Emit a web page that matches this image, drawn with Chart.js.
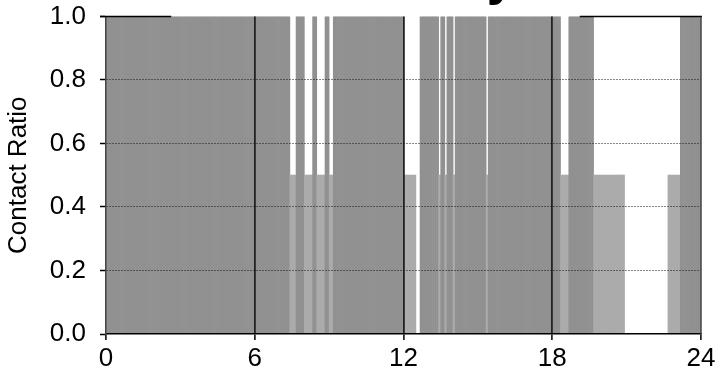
<!DOCTYPE html>
<html>
<head>
<meta charset="utf-8">
<script src="https://cdn.jsdelivr.net/npm/chart.js@4.4.1/dist/chart.umd.min.js"></script>
<style>
  html, body { margin: 0; padding: 0; background: #fff; overflow: hidden; }
  #wrap { position: relative; width: 722px; height: 368px; overflow: hidden; }
  #box { position: absolute; left: 0; top: -52px; width: 722px; height: 420px; }
</style>
</head>
<body>
<div id="wrap"><div id="box"><canvas id="contactChart"></canvas></div></div>
<script>
// minute of the day where each level starts, and the level from there on
var segStart = [0, 445, 460, 480, 500, 510, 530, 540, 550, 720, 750, 760, 805, 810, 820, 825, 840, 845, 920, 925, 1100, 1120, 1180, 1255, 1360, 1390];
var segLevel = [1, 0.5, 1, 0.5, 1, 0.5, 1, 0.5, 1, 0.5, 0, 1, 0.5, 1, 0.5, 1, 0.5, 1, 0.5, 1, 0.5, 1, 0.5, 0, 0.5, 1];
var binMinutes = 5;
var hourTicks = [0, 6, 12, 18, 24];
var ratioTicks = [0, 0.2, 0.4, 0.6, 0.8, 1.0];
var chartTitle = 'Weekday';
var yTitle = 'Contact Ratio';
// hours where the top frame is hidden behind the title
var gapFrom = 2.63, gapTo = 19.11;

var fontFamily = "'Liberation Sans', Arial, sans-serif";

// one bar per 5 minute bin
var bins = [];
var colors = [];
for (var m = 0; m < 1440; m += binMinutes) {
    var lvl = 0;
    for (var s = 0; s < segStart.length; s++) {
        if (segStart[s] <= m) lvl = segLevel[s];
    }
    bins.push({ x: (m + binMinutes / 2) / 60, y: lvl });
    colors.push(lvl >= 1 ? '#919191' : '#ababab');
}

var framePlugin = {
    id: 'frame',
    afterDraw: function (chart) {
        var a = chart.chartArea, ctx = chart.ctx, xs = chart.scales.x;
        ctx.save();
        ctx.strokeStyle = '#000';
        ctx.lineWidth = 1.5;
        ctx.beginPath();
        ctx.moveTo(a.left - 6, a.top);
        ctx.lineTo(xs.getPixelForValue(gapFrom), a.top);
        ctx.moveTo(xs.getPixelForValue(gapTo), a.top);
        ctx.lineTo(a.right + 1, a.top);
        ctx.stroke();
        ctx.strokeStyle = '#444';
        ctx.beginPath();
        ctx.moveTo(a.right, a.top);
        ctx.lineTo(a.right, a.bottom);
        ctx.stroke();
        ctx.restore();
    }
};

var ctx = document.getElementById('contactChart').getContext('2d');
var contactChart = new Chart(ctx, {
    type: 'bar',
    data: {
        datasets: [{
            data: bins,
            backgroundColor: colors,
            borderWidth: 0,
            barPercentage: 1,
            categoryPercentage: 1
        }]
    },
    options: {
        responsive: true,
        maintainAspectRatio: false,
        animation: false,
        layout: { padding: { left: 0, right: 21, top: 0, bottom: 0 } },
        plugins: {
            legend: { display: false },
            tooltip: { enabled: false },
            title: {
                display: true,
                text: chartTitle,
                fullSize: false,
                color: '#000',
                font: { family: fontFamily, size: 52, weight: 'bold', lineHeight: 1.2 },
                padding: { top: 0, bottom: 6 }
            }
        },
        scales: {
            x: {
                type: 'linear',
                min: 0,
                max: 24,
                offset: false,
                afterBuildTicks: function (axis) {
                    axis.ticks = hourTicks.map(function (v) { return { value: v }; });
                },
                afterFit: function (axis) { axis.height = 34; },
                grid: {
                    offset: false,
                    z: 1,
                    color: function (c) {
                        var v = c.tick ? c.tick.value : 0;
                        return (v === 0 || v === 24) ? 'rgba(0,0,0,0)' : '#222';
                    },
                    lineWidth: 1.8,
                    tickColor: '#000',
                    tickLength: 6,
                    tickWidth: 1.5
                },
                border: { display: true, color: '#000', width: 1.5, z: 1 },
                ticks: {
                    color: '#000',
                    padding: 6,
                    maxRotation: 0,
                    font: { family: fontFamily, size: 26, lineHeight: 1 }
                }
            },
            y: {
                min: 0,
                max: 1,
                afterBuildTicks: function (axis) {
                    axis.ticks = ratioTicks.map(function (v) { return { value: v }; });
                },
                afterFit: function (axis) { axis.width = 106; },
                grid: {
                    z: 1,
                    color: function (c) {
                        var v = c.tick ? c.tick.value : 0;
                        return (v < 0.01 || v > 0.99) ? 'rgba(0,0,0,0)' : '#111';
                    },
                    lineWidth: 1,
                    tickColor: '#000',
                    tickLength: 6,
                    tickWidth: 1.5,
                    tickBorderDash: []
                },
                border: { display: true, color: '#444', width: 1.5, dash: [1, 2], z: 1 },
                ticks: {
                    color: '#000',
                    padding: 14,
                    font: { family: fontFamily, size: 26 },
                    callback: function (v) { return v.toFixed(1); }
                },
                title: {
                    display: true,
                    text: yTitle,
                    color: '#000',
                    font: { family: fontFamily, size: 26 },
                    padding: { top: 3, bottom: 10 }
                }
            }
        }
    },
    plugins: [framePlugin]
});
</script>
</body>
</html>
